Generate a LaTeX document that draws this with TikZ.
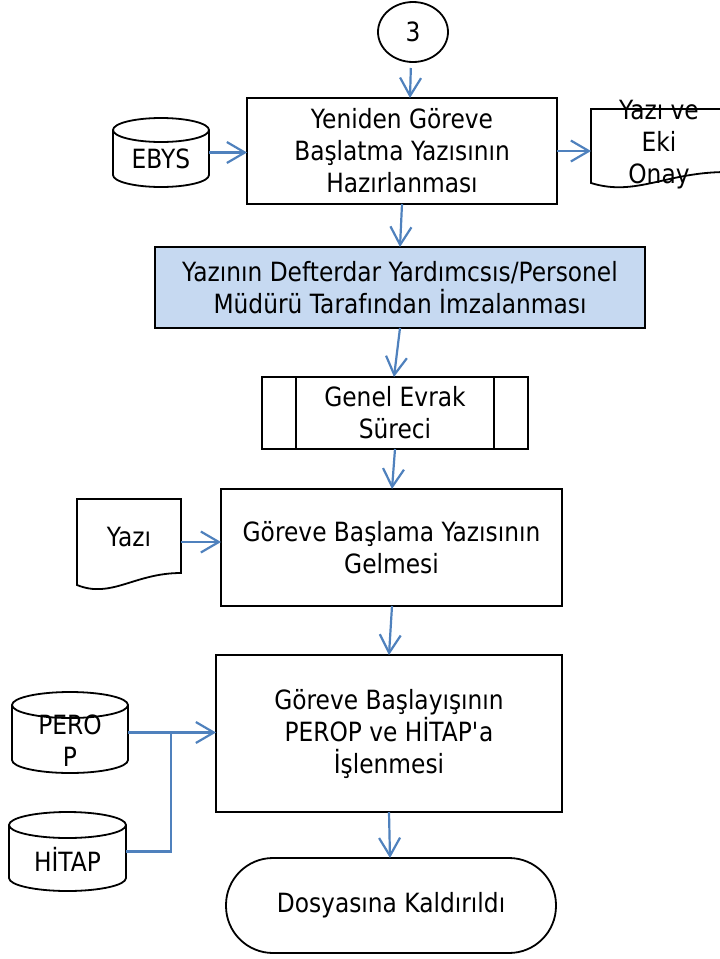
\documentclass[tikz,border=0pt]{standalone}
\usepackage{fontspec}
\setmainfont{DejaVu Sans}[FakeStretch=0.88]
\usetikzlibrary{arrows.meta,calc,shapes.geometric}
\definecolor{arrblue}{HTML}{4F81BD}
\definecolor{boxblue}{HTML}{C6D9F1}
\tikzset{
  txt/.style={font=\fontsize{26.5}{32}\selectfont, align=center, inner sep=0pt},
  outl/.style={draw=black, line width=1.8pt},
  procbox/.style={txt, outl, rectangle, outer sep=0pt},
  ghost/.style={draw=none, rectangle, inner sep=0pt, outer sep=0pt},
  arr/.style={draw=arrblue, line width=2.2pt, -{Straight Barb[length=18pt,width=21pt]}},
  conn/.style={draw=arrblue, line width=2.2pt}
}
% cylinder outline around a ghost node: name, x radius, y radius
\newcommand\cylshape[3]{%
  \draw[outl] ($(#1.north west)+(0,#3)$) -- ($(#1.south west)+(0,-#3)$)
    arc[start angle=180, end angle=360, x radius=#2pt, y radius=#3pt]
    -- ($(#1.north east)+(0,#3)$);
  \draw[outl] ($(#1.north)+(0,#3)$) ellipse[x radius=#2pt, y radius=#3pt];
}
% document outline around a ghost node: name, width, right rise
\newcommand\docshape[3]{%
  \draw[outl] (#1.south west) -- (#1.north west) -- (#1.north east)
    -- ($(#1.south east)+(0,-#3)$)
    .. controls ($(#1.south west)+(0.55*#2,-#3)$) and ($(#1.south west)+(0.33*#2,14)$)
    .. (#1.south west) -- cycle;
}
\begin{document}
\begin{tikzpicture}[x=1pt,y=-1pt]
\useasboundingbox (0,0) rectangle (720,959);
\clip (0,0) rectangle (720,959);

% main flow
\node[txt, outl, ellipse, minimum width=70, minimum height=60, outer sep=0pt] (c3) at (413,32) {3};
\node[procbox, minimum width=310, minimum height=106] (b1) at (402,151)
  {Yeniden Göreve\\Başlatma Yazısının\\Hazırlanması};
\node[procbox, fill=boxblue, minimum width=490, minimum height=81] (blue) at (400,287.5)
  {Yazının Defterdar Yardımcsıs/Personel\\Müdürü Tarafından İmzalanması};
\node[procbox, minimum width=266, minimum height=72] (genel) at (395,413)
  {Genel Evrak\\Süreci};
\draw[outl] ($(genel.north west)+(34,0)$) -- ($(genel.south west)+(34,0)$);
\draw[outl] ($(genel.north east)+(-34,0)$) -- ($(genel.south east)+(-34,0)$);
\node[procbox, minimum width=341, minimum height=117] (box2) at (391.5,547.5)
  {Göreve Başlama Yazısının\\Gelmesi};
\node[procbox, minimum width=346, minimum height=157] (box3) at (389,733.5)
  {Göreve Başlayışının\\PEROP ve HİTAP\textquotesingle a\\İşlenmesi};
\node[procbox, rounded corners=47pt, minimum width=330, minimum height=95] (term) at (391,905.5)
  {Dosyasına Kaldırıldı};

% side inputs / outputs
\node[ghost, minimum width=96, minimum height=69] (ebys) at (161,152.5) {};
\cylshape{ebys}{48}{12}
\node[txt] (ebyst) at (161,158.5) {EBYS};

\node[ghost, minimum width=136, minimum height=74] (doc2) at (659,146) {};
\docshape{doc2}{136}{11}
\node[txt] (doc2t) at (659,145) {Yazı ve\\Eki\\Onay};

\node[ghost, minimum width=104, minimum height=86] (yazi) at (129,542) {};
\docshape{yazi}{104}{12}
\node[txt] (yazit) at (129,537) {Yazı};

\node[ghost, minimum width=116, minimum height=81] (perop) at (70,732.5) {};
\cylshape{perop}{58}{13}
\node[txt] (peropt) at (70,741) {PERO\\P};

\node[ghost, minimum width=117, minimum height=79] (hitap) at (67.5,851.5) {};
\cylshape{hitap}{58.5}{13}
\node[txt] (hitapt) at (67.5,859) {HİTAP};

\coordinate (j) at (171,732.5);

% connectors
\draw[arr, shorten <=6pt] ([xshift=-2pt]c3.south) -- ([xshift=8pt]b1.north);
\draw[arr] (b1.south) -- (blue.north);
\draw[arr] (blue.south) -- ([xshift=-1pt]genel.north);
\draw[arr] (genel.south) -- ([xshift=0.5pt]box2.north);
\draw[arr] ([xshift=0.5pt]box2.south) -- (box3.north);
\draw[arr] (box3.south) -- ([xshift=-1pt]term.north);
\draw[arr] (ebys.east) -- (b1.west |- ebys.east);
\draw[arr] (b1.east) -- (doc2.west |- b1.east);
\draw[arr] (yazi.east) -- (box2.west |- yazi.east);
\draw[arr] (perop.east) -- (box3.west |- perop.east);
\draw[conn] (hitap.east) -| (j);
\end{tikzpicture}
\end{document}
